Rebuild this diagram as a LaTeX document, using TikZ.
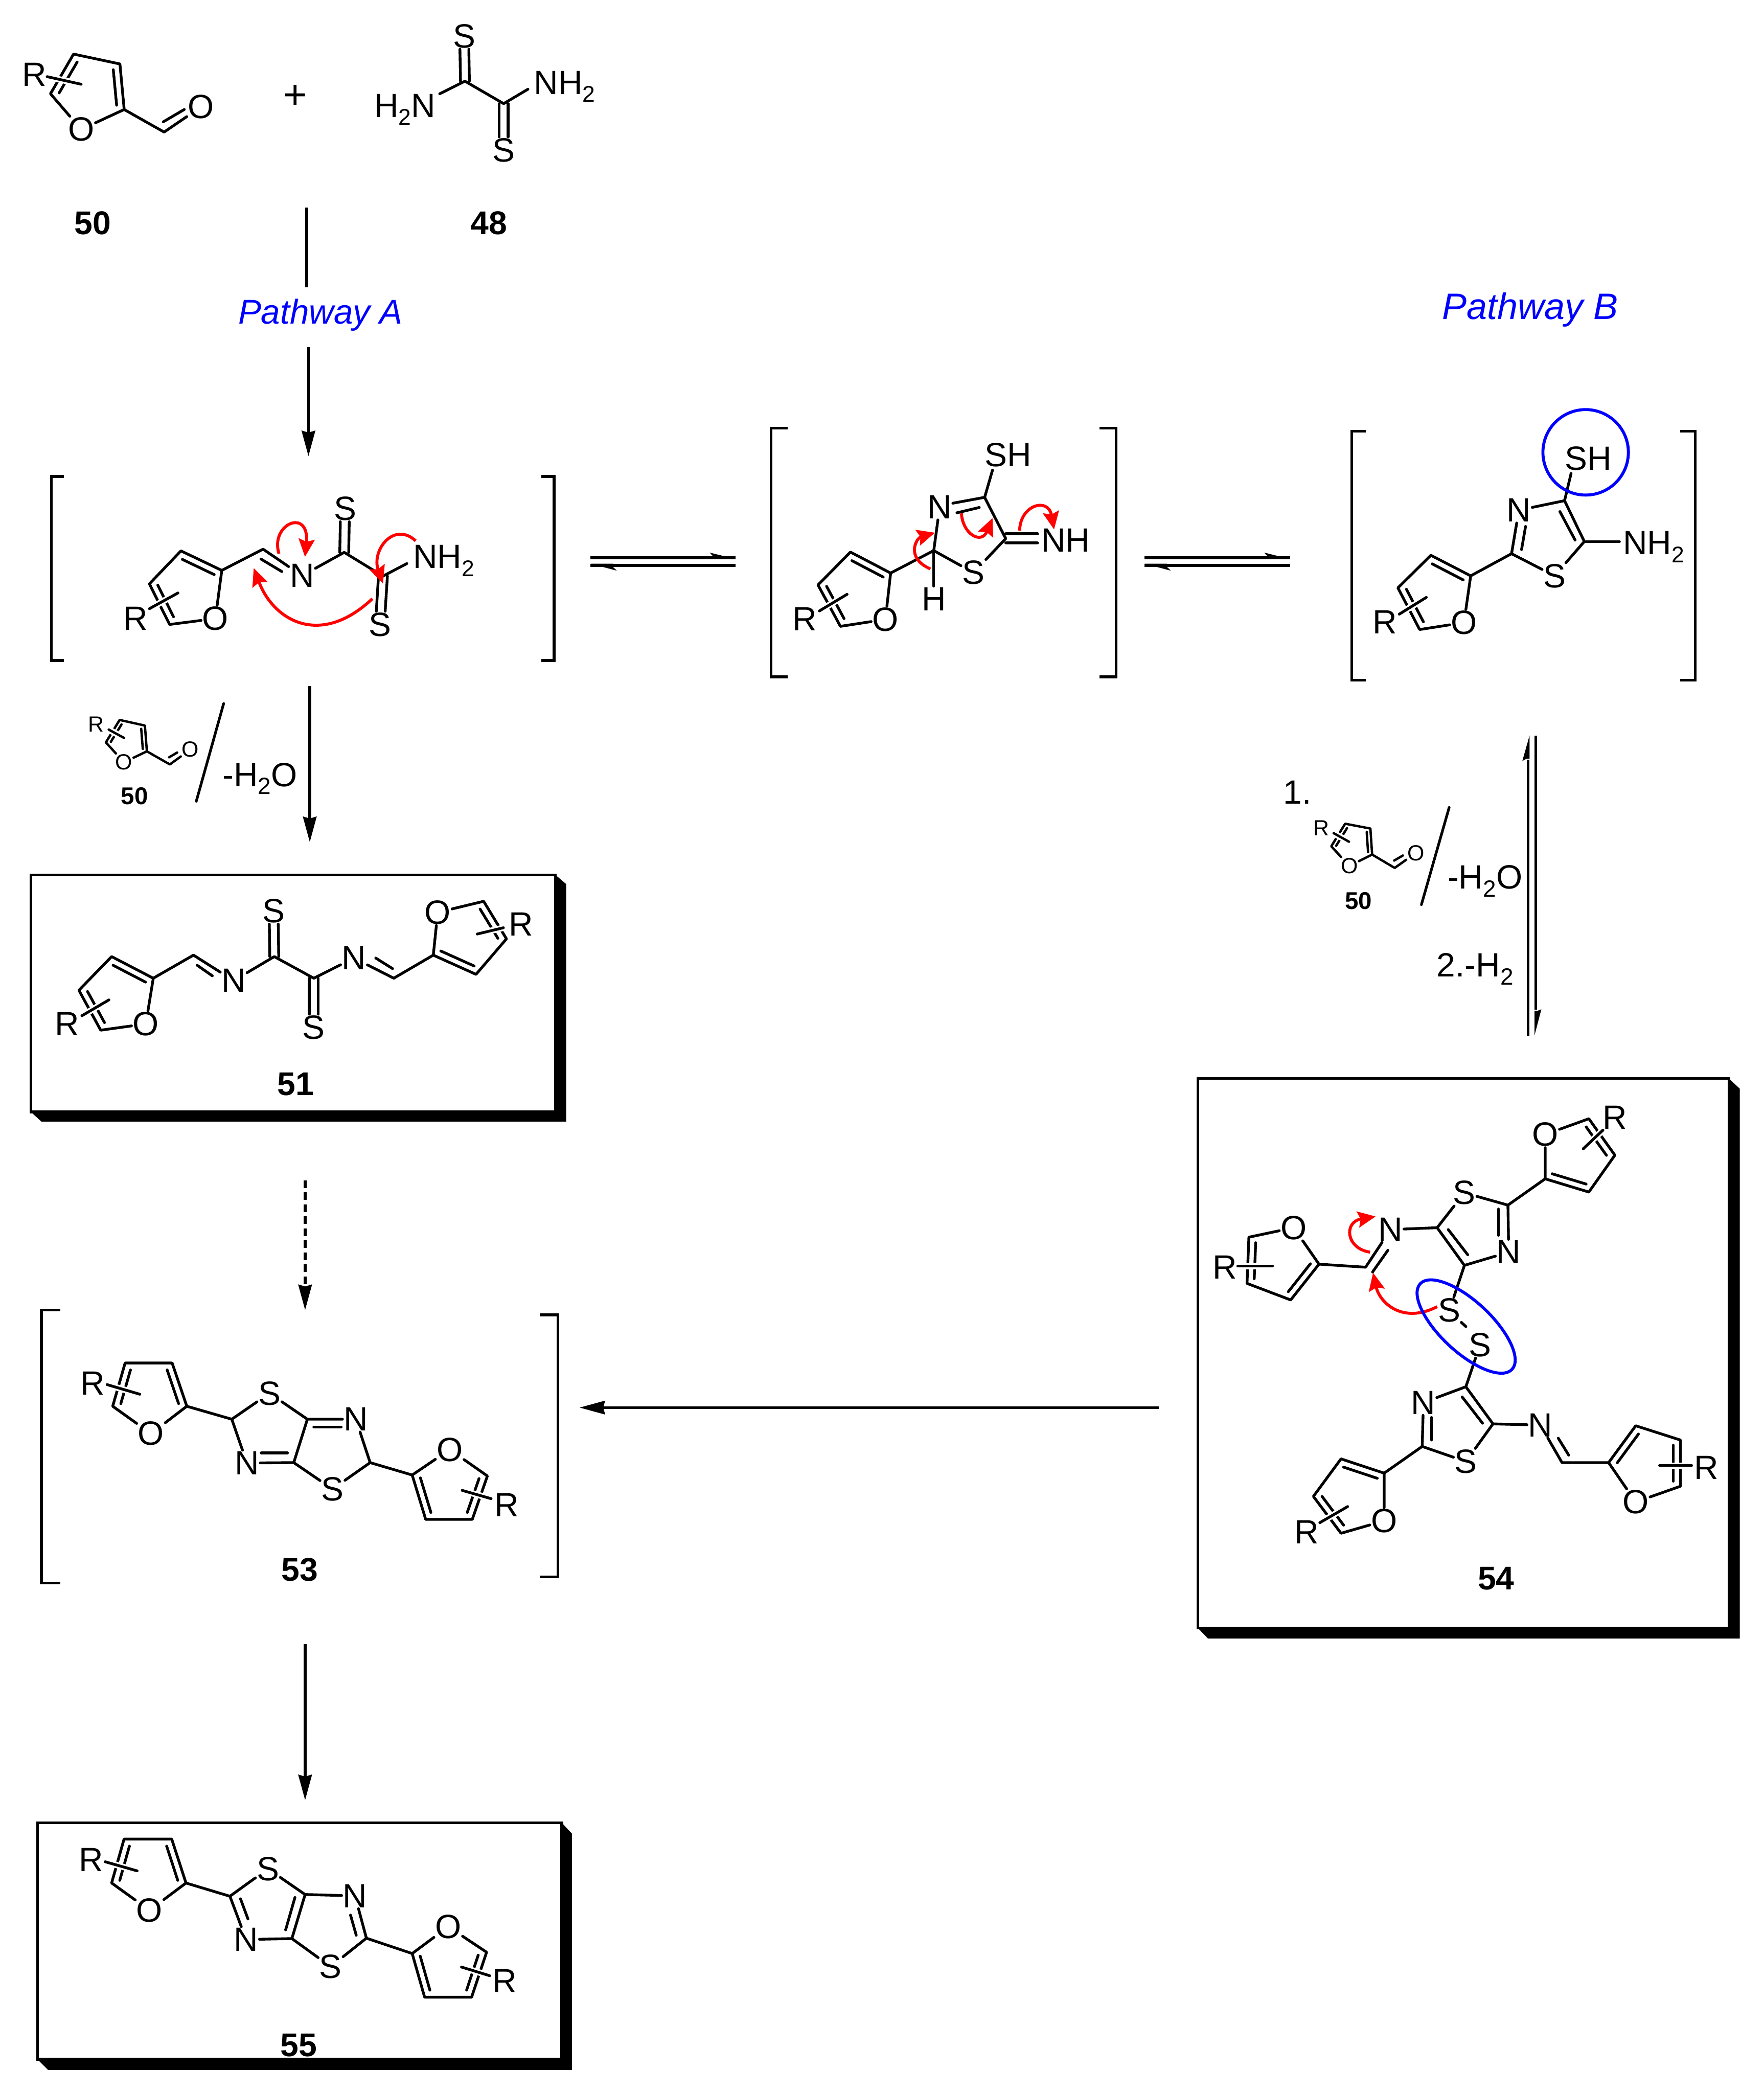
\documentclass[tikz,border=0pt]{standalone}
\usepackage{fontspec}
\setmainfont{Liberation Sans}
\usetikzlibrary{calc,arrows.meta,shapes.geometric}
\definecolor{pathblue}{RGB}{0,0,255}
\definecolor{mechred}{RGB}{255,0,0}
\newcommand\subtwo{\raisebox{-.24em}{\fontsize{14.5}{14.5}\selectfont 2}}
\newcommand\subsmall{\raisebox{-.24em}{\fontsize{15}{15}\selectfont 2}}
\tikzset{
  x=0.03cm,y=-0.03cm,
  bond/.style={line width=1.75pt,line cap=round,line join=round},
  thinb/.style={line width=1.5pt,line cap=round,line join=round},
  atom/.style={inner sep=.6pt,font=\fontsize{21.5}{24}\selectfont},
  satom/.style={inner sep=.5pt,font=\fontsize{14}{16}\selectfont},
  lab/.style={inner sep=0pt,font=\fontsize{21.5}{24}\selectfont},
  num/.style={inner sep=0pt,font=\fontsize{21}{23}\selectfont\bfseries},
  snum/.style={inner sep=0pt,font=\fontsize{15.5}{18}\selectfont\bfseries},
  pathlabel/.style={inner sep=0pt,text=pathblue,font=\fontsize{22}{24}\selectfont\itshape},
  brk/.style={line width=1.7pt,line join=miter},
  arr/.style={line width=1.8pt,-{Stealth[length=.57cm,width=.3cm,inset=.04cm]}},
  plainline/.style={line width=1.7pt},
  curly/.style={mechred,line width=1.9pt,-{Stealth[length=.4cm,width=.36cm,inset=.06cm]}},
  ring/.style={pathblue,draw=pathblue,line width=1.9pt,inner sep=0pt},
}
% prefix, a, b, c, d, O, cross1, cross2, R
\newcommand\furan[9]{%
  \coordinate (#1a) at (#2);\coordinate (#1b) at (#3);\coordinate (#1c) at (#4);
  \coordinate (#1d) at (#5);\coordinate (#1x) at (#6);\coordinate (#1p) at (#7);\coordinate (#1q) at (#8);
  \coordinate (#1m) at (barycentric cs:#1a=1,#1b=1,#1c=1,#1d=1,#1x=1);
  \node[\ringatom] (#1o) at (#1x) {O};
  \draw[\ringbond] (#1o) -- (#1a) -- (#1b) -- (#1c) -- (#1d) -- (#1o);
  \draw[\ringbond] ($(#1a)!.22!(#1m)$) -- ($(#1b)!.22!(#1m)$);
  \draw[\ringbond] ($(#1c)!.22!(#1m)$) -- ($(#1d)!.22!(#1m)$);
  \draw[white,line width=4pt] (#1p) -- (#1q);
  \draw[\ringbond] (#1p) -- (#1q);
  \node[\ringatom] (#1R) at (#9) {R};
}
\newcommand\ringatom{atom}
\newcommand\ringbond{bond}
\newcommand\pt[2]{\coordinate (#1) at (#2);}
\newcommand\atm[3]{\node[atom] (#1) at (#2) {#3};}
\newcommand\dblv[2]{%
  \draw[bond,transform canvas={xshift=-.1cm}] (#1) -- (#2);
  \draw[bond,transform canvas={xshift=.1cm}] (#1) -- (#2);}
\newcommand\framed[8]{% l t r b sl st sr sb
  \fill[black] (#3,#2) -- (#7,#6) -- (#7,#8) -- (#5,#8) -- (#1,#4) -- (#3,#4) -- cycle;
  \draw[line width=1.8pt,line join=miter] (#1,#2) rectangle (#3,#4);}
\newcommand\brackets[8]{% left x, top, bottom, tick ; right x, top, bottom, tick
  \draw[brk] (#4,#2) -- (#1,#2) -- (#1,#3) -- (#4,#3);
  \draw[brk] (#8,#6) -- (#5,#6) -- (#5,#7) -- (#8,#7);}
\begin{document}
\begin{tikzpicture}
\useasboundingbox (0,0) rectangle (1321,1568);
\fill[white] (0,0) rectangle (1321,1568);

%%% 50 top
\furan{t}{93,82}{89.8,47.9}{55.1,40.5}{37.8,70.2}{60.8,96.9}{35.3,57.4}{60.8,63.1}{25.8,55.7}
\pt{tc}{122.9,98.9}\atm{tO}{150.6,80}{O}
\draw[bond] (ta) -- (tc) -- (tO);
\draw[bond] (122.3,91.2) -- (138,82);
\node[inner sep=0pt,font=\fontsize{26}{28}\selectfont] (plus) at (221.2,72.6) {+};
%%% 48
\pt{d1}{348.2,60.8}\pt{d2}{377.2,77.6}\pt{dn1}{329.3,70.2}\pt{dn2}{395.4,66.8}
\atm{ds1}{347.6,27}{S}\atm{ds2}{377.2,112.4}{S}
\node[atom,anchor=base east] (dh2n) at (327,87.7) {H\subtwo N};
\node[atom,anchor=base west] (dnh2) at (399,70.5) {NH\subtwo};
\draw[bond] (dn1) -- (d1) -- (d2) -- (dn2);
\dblv{d1}{ds1}\dblv{d2}{ds2}
\node[num] (n50) at (69.3,167) {50};
\node[num] (n48) at (366.2,167) {48};

%%% Pathway A
\pt{pa1}{229.7,155.3}\pt{pa2}{229.7,215}\pt{pa3}{231,260}\pt{pa4}{231,341.6}
\draw[plainline] (pa1) -- (pa2);
\node[pathlabel] (pathA) at (240,236) {Pathway A};
\draw[arr] (pa3) -- (pa4);
\node[pathlabel,font=\fontsize{23.5}{26}\selectfont\itshape] (pathB) at (1146,232) {Pathway B};

%%% bracket A
\brackets{38.4}{356.8}{494.6}{47.9}{415}{356.8}{494.6}{405.5}
\furan{a}{166.1,427.1}{135.5,412.5}{111.9,437.2}{127,467.6}{161.3,463.2}{111.9,455.8}{133.3,444}{101.5,463.2}
\pt{ach}{197,411.2}\atm{an}{226.2,431.1}{N}\pt{ac1}{257.8,413.6}\pt{ac2}{286.8,431.4}
\atm{as1}{258.4,380.8}{S}\atm{as2}{284.5,467.6}{S}\pt{an2}{304.7,422}
\node[atom,anchor=base west] (anh2) at (308.5,425.4) {NH\subtwo};
\draw[bond] (aa) -- (ach) -- (an) -- (ac1) -- (ac2) -- (an2);
\draw[bond] (195.4,418.6) -- (211.1,428);
\dblv{ac1}{as1}\dblv{ac2}{as2}
\draw[curly] (208.9,414.6) .. controls (202,392) and (232,380) .. (228.4,417);
\draw[curly] (311.3,405) .. controls (295,390) and (278,412) .. (286.8,437);
\draw[curly] (278.9,448.3) .. controls (240,485) and (205,465) .. (190,425.4);

%%% equilibrium 1
\newcommand\eqh[2]{%
  \fill (#1,416.5) -- (#2,416.5) -- (#2,418.6) -- (#1,418.6) -- cycle;
  \fill (#1,422.1) -- (#2,422.1) -- (#2,424.5) -- (#1,424.5) -- cycle;
  \fill (#2,418.6) -- ($(#2,418.6)+(-19.4,-4.8)$) -- ($(#2,418.6)+(-16.9,-2.1)$) -- ($(#2,418.6)+(-16.9,0)$) -- cycle;
  \fill (#1,422.1) -- ($(#1,422.1)+(19.6,5.2)$) -- ($(#1,422.1)+(16.7,2.4)$) -- ($(#1,422.1)+(16.7,0)$) -- cycle;}
\eqh{442.3}{550.9}
\eqh{857.2}{966.2}

%%% bracket B
\brackets{577.4}{320.6}{506.8}{589.8}{835.9}{320.6}{506.8}{823.5}
\furan{b}{667,429.1}{636.9,413.4}{612.6,438}{629.4,469}{663.1,463.8}{613.6,457.5}{634.4,445}{602.7,463.5}
\pt{bc2}{699.3,412.3}\atm{bh}{699.3,448.5}{H}\atm{bn}{703.7,379.7}{N}\pt{bc4}{737.4,372.4}
\pt{bc5}{753.2,403.3}\atm{bs}{729,428.8}{S}\atm{bsh}{755,340.6}{SH}\atm{bnh}{798,404.4}{NH}\pt{bshe}{743.3,352}
\draw[bond] (ba) -- (bc2) -- (bs) -- (bc5) -- (bc4) -- (bshe);
\draw[bond] (bc2) -- (bh);
\draw[bond] (bc2) -- (bn);
\draw[bond] (bc4) -- (713.6,376.8);
\draw[bond] (733.4,380) -- (716.6,384);
\draw[bond] (bc5) ++(0,-3.6) -- (777,399.7);
\draw[bond] (bc5) ++(0,3.2) -- (777,406.5);
\draw[curly] (696.8,426) .. controls (678,418) and (686,403) .. (700.2,398.9);
\draw[curly] (720,384.4) .. controls (721,400) and (735,408) .. (743.3,387.9);
\draw[curly] (763.6,397.3) .. controls (764,378) and (785,372) .. (789.4,396.5);

%%% bracket C
\brackets{1012.2}{323}{509.2}{1023}{1269.7}{323}{509.2}{1258.3}
\furan{c}{1101.4,431.2}{1071.6,415.8}{1046.9,440.2}{1063.2,471.4}{1096.4,466.2}{1047.9,459.9}{1068.2,447.3}{1037,465.9}
\pt{cc2}{1132,414.6}\atm{cn}{1137.5,382}{N}\pt{cc4}{1171.7,374.9}\pt{cc5}{1186.5,405.5}
\atm{cs}{1164.2,431.2}{S}\atm{csh}{1189.5,343.4}{SH}\pt{cn2}{1212.8,405.5}\pt{cshe}{1176.6,354.5}
\node[atom,anchor=base west] (cnh2) at (1214.5,415.1) {NH\subtwo};
\draw[bond] (ca) -- (cc2) -- (cs) -- (cc5) -- (cc4) -- (cn) -- (cc2);
\draw[bond] (cc4) -- (cshe);
\draw[bond] (cc5) -- (cn2);
\draw[bond] (1142.5,394.2) -- (1139.5,411.5);
\draw[bond] (1168.2,383.1) -- (1179.6,404.4);
\node[ring,circle,draw,minimum size=1.92cm] (shmark) at (1187.5,338.7) {};

%%% small 50 left
\renewcommand\ringatom{satom}\renewcommand\ringbond{thinb}
\furan{l}{110,562.6}{108.5,543.3}{89.6,539.1}{79.3,555.9}{92.8,570.8}{81.4,546.3}{93,552.6}{72,542.4}
\pt{lc}{127.2,572.4}\node[satom] (lO) at (142.6,561.2) {O};
\draw[thinb] (la) -- (lc) -- (lO);
\draw[thinb] (126.6,567.1) -- (132.7,563.5);
\node[snum] (nl50) at (100.7,596) {50};
\pt{ls1}{167.5,526.8}\pt{ls2}{147,600}
\draw[plainline,line cap=round] (ls1) -- (ls2);
\node[lab,anchor=base west] (lh2o) at (166.5,588.8) {-H\subsmall O};
\pt{lar1}{232,513.6}\pt{lar2}{232,630.6}
\draw[arr] (lar1) -- (lar2);

%%% small 50 right
\furan{r}{1027.6,639.9}{1026.3,620.4}{1007.4,616.8}{997,633.7}{1010.5,648.4}{998.8,623.9}{1010.3,630.3}{989.4,619.9}
\pt{rc}{1044.5,649.9}\node[satom] (rO) at (1060.3,638.7) {O};
\draw[thinb] (ra) -- (rc) -- (rO);
\draw[thinb] (1044.1,644.4) -- (1050.6,640.6);
\node[snum] (nr50) at (1017.5,674.4) {50};
\pt{rs1}{1085.3,604.6}\pt{rs2}{1064.5,677.4}
\draw[plainline,line cap=round] (rs1) -- (rs2);
\node[lab,anchor=base west] (rh2o) at (1083.9,665.5) {-H\subsmall O};
\node[lab,anchor=base west] (rone) at (960.8,602) {1.};
\node[lab,anchor=base west] (rtwo) at (1075.8,731.3) {2.-H\subsmall};
\renewcommand\ringatom{atom}\renewcommand\ringbond{bond}
% vertical equilibrium
\fill (1143.5,569) -- (1145.5,569) -- (1145.5,775.4) -- (1143.5,775.4) -- cycle;
\fill (1149.2,550.7) -- (1151.2,550.7) -- (1151.2,756) -- (1149.2,756) -- cycle;
\fill (1145.5,550.7) -- (1140.1,569.8) -- (1143.5,568) -- (1145.5,568) -- cycle;
\fill (1149.2,775.4) -- (1154.3,755.8) -- (1151.2,757) -- (1149.2,757) -- cycle;

%%% 51
\framed{23.1}{655.1}{415.9}{832.6}{31}{662}{424}{839.8}
\furan{e}{114.8,732.5}{83.6,716.3}{59.1,741.5}{75.4,771.4}{109.2,766.7}{61.3,760.6}{81.6,748.7}{50.1,766.7}
\furan{f}{324.5,715.2}{356.5,729.6}{379.3,703}{362.2,674.9}{327.8,683.2}{357.4,699.4}{377,694.7}{390.3,692.2}
\pt{ech}{144.9,715.2}\atm{en}{175,734.3}{N}\pt{ec1}{205.4,716.3}\pt{ec2}{235,732.5}
\atm{es1}{204.9,682.1}{S}\atm{es2}{235,769.3}{S}\atm{en2}{265.1,717.4}{N}\pt{ech2}{294.9,732.5}
\draw[bond] (ea) -- (ech) -- (en) -- (ec1) -- (ec2) -- (en2) -- (ech2) -- (fa);
\draw[bond] (147.7,722.8) -- (159,730.7);
\draw[bond] (281.4,717.4) -- (294,725.3);
\dblv{ec1}{es1}\dblv{ec2}{es2}
\node[num] (n51) at (221.5,811.8) {51};

\pt{da1}{228.5,883.8}\pt{da2}{228.5,981}
\draw[arr,dash pattern=on .17cm off .1cm] (da1) -- (da2);

%%% 53
\brackets{31}{981}{1185.5}{45}{417.9}{984.6}{1180.9}{404.4}
\furan{g}{139.9,1053}{128.9,1020.6}{93.7,1020.6}{84.4,1053}{113.1,1073.5}{80.2,1036.8}{104.7,1044}{69.5,1036}
\furan{h}{308.7,1104.5}{318.8,1137.7}{353.7,1137.7}{365,1105.2}{336.8,1085.4}{346.1,1116}{367.8,1122.2}{379.3,1126.8}
\pt{gc2}{173.6,1062.7}\atm{gs}{201.8,1043.3}{S}\pt{gc3}{230.2,1062.7}\atm{gn}{266.5,1062.7}{N}
\pt{gc4}{277.2,1095.2}\atm{gs2}{249,1115}{S}\pt{gc5}{220,1095.2}\atm{gn2}{184.9,1095.5}{N}
\draw[bond] (ga) -- (gc2) -- (gs) -- (gc3) -- (gn) -- (gc4) -- (gs2) -- (gc5) -- (gn2) -- (gc2);
\draw[bond] (gc3) -- (gc5);
\draw[bond] (gc4) -- (ha);
\draw[bond] (235,1068.5) -- (255.5,1068.5);
\draw[bond] (195.6,1088) -- (215.3,1088);
\node[num] (n53) at (224.6,1175.5) {53};

\pt{ea1}{228.5,1231}\pt{ea2}{228.5,1348}
\draw[arr] (ea1) -- (ea2);

%%% 55
\framed{28.1}{1364.9}{420.7}{1542}{36}{1373}{428.3}{1550}
\furan{i}{139.3,1410}{128.6,1377.1}{92.9,1377.1}{83.6,1410}{112,1430.4}{78.8,1394.1}{102.7,1400.9}{68.4,1392.7}
\furan{j}{308.7,1462.8}{318,1495.5}{353.2,1495.5}{364.4,1461.8}{335.7,1442.7}{345.6,1472.9}{366.7,1479.4}{377.9,1483.4}
\pt{ic2}{172.2,1419.9}\atm{is}{200.6,1399.4}{S}\pt{ic3}{228.5,1418.6}\atm{in}{265.9,1419.6}{N}
\pt{ic4}{274.4,1451.3}\atm{is2}{247.6,1472.6}{S}\pt{ic5}{218.6,1451.6}\atm{in2}{184.3,1452.3}{N}
\draw[bond] (ia) -- (ic2) -- (is) -- (ic3) -- (in) -- (ic4) -- (is2) -- (ic5) -- (in2) -- (ic2);
\draw[bond] (ic3) -- (ic5);
\draw[bond] (ic4) -- (ja);
\draw[bond] (180.1,1421.8) -- (185.7,1436.9);
\draw[bond] (220.9,1420.8) -- (213.9,1445.1);
\draw[bond] (262.5,1434) -- (266.8,1449.1);
\node[num] (n55) at (223.7,1531.5) {55};

%%% 54
\framed{897.1}{807.6}{1294.8}{1219}{904.6}{815.2}{1302.9}{1226.9}
\furan{k}{1157.2,882.7}{1189.9,892.6}{1209.4,865}{1189.9,837.7}{1157.2,849.5}{1185.7,860.2}{1200.5,846.2}{1209.4,836.9}
\furan{m}{987.8,946.6}{966.6,973.4}{933.9,961}{935.3,926.4}{968.8,919.3}{927,948}{953,948}{917.2,948.9}
\furan{o}{1204.7,1095.2}{1225,1067.6}{1258.5,1078.3}{1258.5,1112.9}{1225,1124.7}{1242.9,1097.4}{1266.9,1097.4}{1277.8,1098.9}
\furan{q}{1036.6,1103.1}{1004.3,1092.4}{983.6,1120.5}{1004.3,1148.1}{1036.6,1138.8}{988.4,1140.2}{1009.3,1128.1}{978.6,1147.3}
\pt{kc2}{1129.3,902.4}\atm{ks}{1096.7,893.2}{S}\pt{kc5}{1076.3,919.3}\pt{kc4}{1096.7,947.5}\atm{kn}{1129.9,937.6}{N}
\atm{kn2}{1041.4,920.7}{N}\pt{kch}{1022.7,948.9}
\atm{ss1}{1085.5,981.2}{S}\atm{ss2}{1108.4,1007}{S}
\pt{qc4}{1097.8,1038.4}\atm{qn}{1066,1050.2}{N}\pt{qc2}{1065.1,1083.1}\atm{qs}{1097.8,1094.4}{S}\pt{qc5}{1118.1,1066.2}
\atm{qn2}{1153.6,1067.1}{N}\pt{qch}{1169.8,1095.2}
\draw[bond] (ka) -- (kc2) -- (ks) -- (kc5) -- (kc4) -- (kn) -- (kc2);
\draw[bond] (kc5) -- (kn2) -- (kch) -- (ma);
\draw[bond] (kc4) -- (ss1);
\pt{ssa}{1094.4,990.2}\pt{ssb}{1097.8,993.3}
\draw[bond] (ssa) -- (ssb);
\draw[bond] (ss2) -- (qc4) -- (qn) -- (qc2) -- (qs) -- (qc5) -- (qc4);
\draw[bond] (qc2) -- (qa);
\draw[bond] (qc5) -- (qn2) -- (qch) -- (oa);
\draw[bond] (1122.3,905.3) -- (1122.3,925);
\draw[bond] (1084.6,920.7) -- (1099.2,939.6);
\draw[bond] (1027.9,952.5) -- (1039.4,936.2);
\draw[bond] (1095,1046) -- (1110.3,1065.7);
\draw[bond] (1072.1,1061.4) -- (1072.1,1078.3);
\draw[bond] (1167,1076.9) -- (1174.8,1089.6);
\draw[curly] (1026,937.6) .. controls (1008,935) and (1006,915) .. (1030.2,910.9);
\draw[curly] (1076.3,978.4) .. controls (1050,992) and (1033,975) .. (1028.3,953);
\node[ring,ellipse,draw,minimum width=2.82cm,minimum height=1.14cm,rotate=-43] (ssmark) at (1098,993.3) {};
\node[num] (n54) at (1120.4,1181.9) {54};

\pt{ba1}{868,1054}\pt{ba2}{434,1054}
\draw[arr] (ba1) -- (ba2);
\end{tikzpicture}
\end{document}
